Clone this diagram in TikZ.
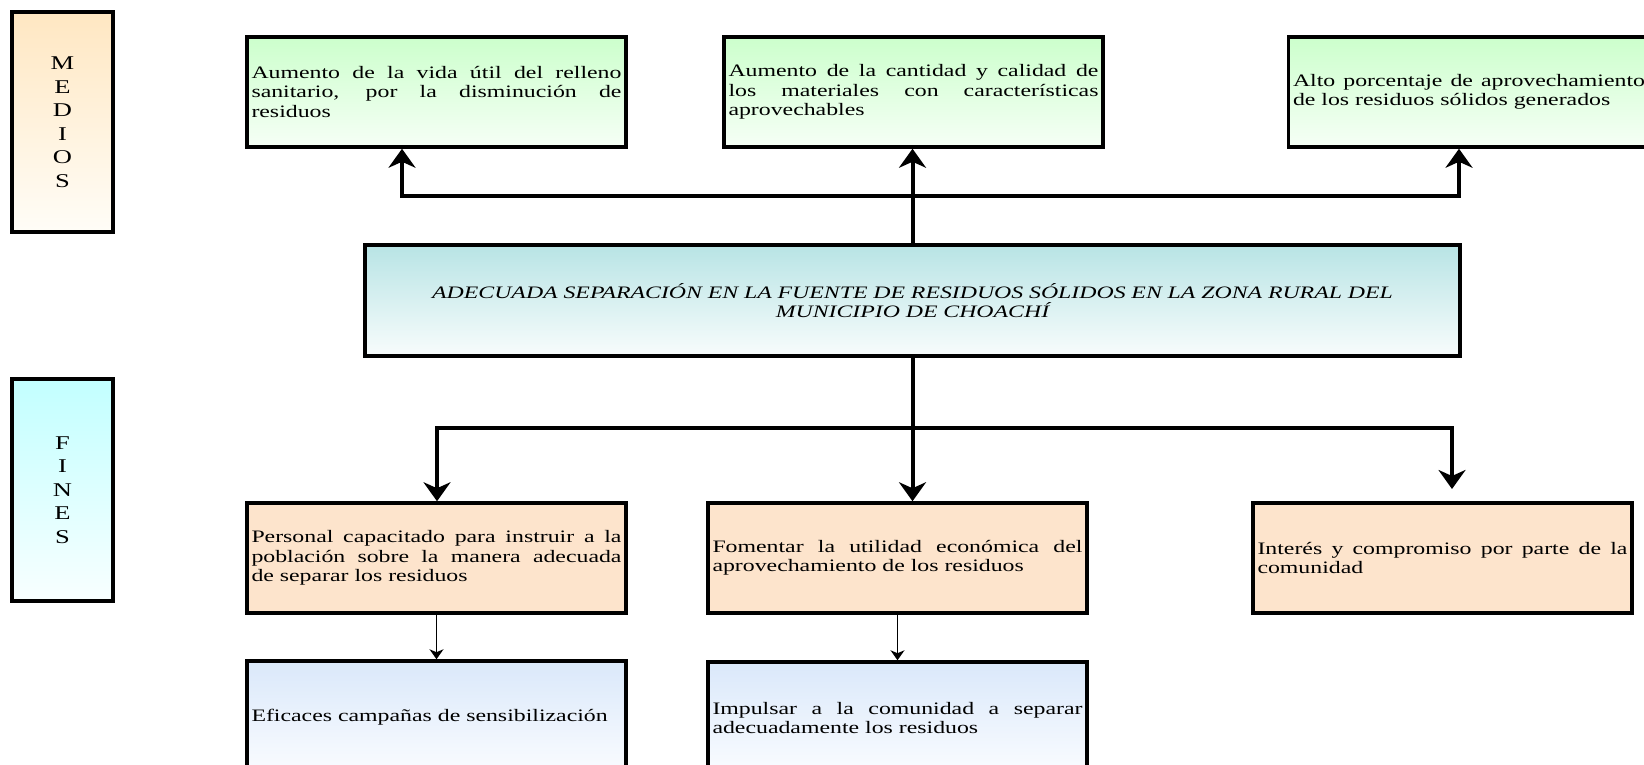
\documentclass[tikz,border=0pt]{standalone}
\usepackage{fontspec}
\setmainfont{Liberation Serif}[FakeStretch=1.36]
\usetikzlibrary{arrows.meta}

\hyphenpenalty=10000
\exhyphenpenalty=10000
\tolerance=9999

\definecolor{verdeArr}{RGB}{204,255,204}
\definecolor{verdeAb}{RGB}{246,255,246}
\definecolor{turqArr}{RGB}{184,228,229}
\definecolor{turqAb}{RGB}{248,252,252}
\definecolor{durazno}{RGB}{253,228,204}
\definecolor{azulArr}{RGB}{218,232,250}
\definecolor{azulAb}{RGB}{250,252,255}
\definecolor{naranjaArr}{RGB}{255,231,194}
\definecolor{naranjaAb}{RGB}{255,253,247}
\definecolor{cianArr}{RGB}{194,255,255}
\definecolor{cianAb}{RGB}{248,255,255}

\tikzset{
	punta/.tip={Stealth[length=19pt,width=27pt,inset=6pt]},
	puntafina/.tip={Stealth[length=10pt,width=14pt,inset=3pt]},
	caja/.style={draw, line width=3.5pt, minimum height=110pt, text width=370pt,
		inner xsep=4.5pt, inner ysep=0pt, align=justify,
		font=\fontsize{17.5}{19.5}\selectfont},
	rotulo/.style={draw, line width=3.5pt, minimum width=101pt, align=center,
		font=\fontsize{19.5}{23.5}\selectfont},
	medio/.style={caja, top color=verdeArr, bottom color=verdeAb},
	fin/.style={caja, fill=durazno},
	accion/.style={caja, minimum height=112pt, top color=azulArr, bottom color=azulAb},
	grueso/.style={line width=4pt, -punta},
	fino/.style={line width=1.3pt, -puntafina}
}

\begin{document}
\begin{tikzpicture}[x=1pt, y=1pt]
	\path[use as bounding box, fill=white] (0,0) rectangle (1644,-765);

	\node[rotulo, minimum height=220pt, top color=naranjaArr, bottom color=naranjaAb] (medios) at (62.5,-122) {M\\E\\D\\I\\O\\S};
	\node[rotulo, minimum height=222pt, top color=cianArr, bottom color=cianAb] (fines) at (62.5,-490) {F\\I\\N\\E\\S};

	\node[medio] (aum) at (436.5,-92) {Aumento de la vida útil del relleno sanitario, por la disminución de residuos};
	\node[medio] (cant) at (913.5,-92) {Aumento de la cantidad y calidad de\linebreak los materiales con características aprovechables};
	\node[medio, text width=352pt] (alto) at (1469,-92) {Alto porcentaje de aprovechamiento de los residuos sólidos generados};

	\node[caja, minimum width=1095pt, minimum height=111pt, text width=1080pt, align=center,
		top color=turqArr, bottom color=turqAb] (cen) at (912.5,-300.5)
		{\itshape ADECUADA SEPARACIÓN EN LA FUENTE DE RESIDUOS SÓLIDOS EN LA ZONA RURAL DEL\\ MUNICIPIO DE CHOACHÍ};

	\node[fin] (pers) at (436.5,-558) {Personal capacitado para instruir a la población sobre la manera adecuada\linebreak de separar los residuos};
	\node[fin] (fom) at (897.5,-558) {Fomentar la utilidad económica del aprovechamiento de los residuos};
	\node[fin] (inte) at (1442.5,-558) {Interés y compromiso por parte de la comunidad};

	\node[accion] (efi) at (436.5,-717) {Eficaces campañas de sensibilización};
	\node[accion] (imp) at (897.5,-718) {Impulsar a la comunidad a separar adecuadamente los residuos};

	\coordinate (ja) at (402,-196);
	\coordinate (jc) at (1459,-196);
	\coordinate (jd) at (437,-428);
	\coordinate (jf) at (1452,-428);
	\coordinate (pf) at (1452,-489);

	\draw[grueso] (cen.north) -- (cen.north |- cant.south);
	\draw[line width=4pt, punta-punta] (ja |- aum.south) -- (ja) -- (jc) -- (jc |- alto.south);
	\draw[grueso] (cen.south) -- (cen.south |- fom.north);
	\draw[line width=4pt, punta-punta] (jd |- pers.north) -- (jd) -- (jf) -- (pf);
	\draw[fino] (pers.south) -- (efi.north);
	\draw[fino] (fom.south) -- (imp.north);
\end{tikzpicture}
\end{document}
